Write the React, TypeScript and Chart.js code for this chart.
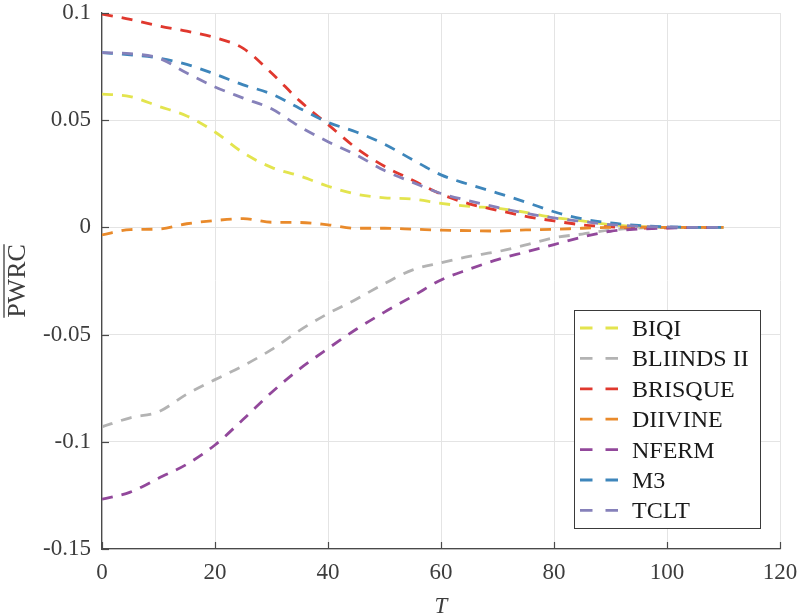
import React, { useEffect, useRef } from "react";
import { Chart, registerables } from "chart.js";

Chart.register(...registerables);

// Threshold values T (x axis)
const T_VALUES = [0, 5, 10, 15, 20, 25, 30, 35, 40, 45, 50, 55, 60, 65, 70, 75, 80, 85, 90, 95, 100, 105, 110];

// Mean PWRC for each quality metric
const BIQI = [0.0622, 0.061, 0.0565, 0.052, 0.0445, 0.0348, 0.028, 0.024, 0.0192, 0.0155, 0.0138, 0.0132, 0.0112, 0.0098, 0.0089, 0.007, 0.0046, 0.003, 0.0012, 0.0004, 0, 0, 0];
const BLIINDS_II = [-0.093, -0.0888, -0.086, -0.0778, -0.071, -0.0645, -0.057, -0.048, -0.0402, -0.0335, -0.0262, -0.0198, -0.0165, -0.0135, -0.0113, -0.0082, -0.0048, -0.0031, -0.0012, -0.0003, 0, 0, 0];
const BRISQUE = [0.0995, 0.097, 0.094, 0.0915, 0.0885, 0.0835, 0.072, 0.059, 0.048, 0.037, 0.0285, 0.022, 0.0155, 0.011, 0.008, 0.0052, 0.003, 0.0012, 0.0002, -0.0003, -0.0002, 0, 0];
const DIIVINE = [-0.0035, -0.001, -0.0008, 0.0017, 0.0032, 0.0041, 0.0024, 0.0023, 0.0012, -0.0004, -0.0004, -0.0008, -0.0013, -0.0015, -0.0017, -0.0012, -0.0009, -0.0004, 0, 0.0001, 0, 0, 0];
const NFERM = [-0.1268, -0.1235, -0.117, -0.1105, -0.1015, -0.0895, -0.077, -0.066, -0.0565, -0.0475, -0.0395, -0.0321, -0.0245, -0.0195, -0.015, -0.0115, -0.008, -0.0045, -0.0018, -0.0008, -0.0003, -0.0001, 0];
const M3 = [0.0815, 0.0805, 0.079, 0.076, 0.0715, 0.0665, 0.0622, 0.0555, 0.049, 0.0445, 0.0388, 0.0315, 0.0245, 0.02, 0.016, 0.0118, 0.0073, 0.004, 0.0021, 0.0009, 0.0003, 0, 0];
const TCLT = [0.0815, 0.081, 0.079, 0.072, 0.0655, 0.0603, 0.0553, 0.047, 0.04, 0.0338, 0.0265, 0.021, 0.0158, 0.0124, 0.0093, 0.0066, 0.0044, 0.0028, 0.0013, 0.0005, 0.0002, 0, 0];

const SERIES_NAMES = ["BIQI", "BLIINDS II", "BRISQUE", "DIIVINE", "NFERM", "M3", "TCLT"];
const SERIES_VALUES = [BIQI, BLIINDS_II, BRISQUE, DIIVINE, NFERM, M3, TCLT];
const SERIES_COLORS = ["#e3e44e", "#b3b3b3", "#e0382e", "#e98a2b", "#92489b", "#3e86bb", "#8681ba"];

const X_TICKS = [0, 20, 40, 60, 80, 100, 120];
const Y_TICK_VALUES = [-0.15, -0.1, -0.05, 0, 0.05, 0.1];
const Y_TICK_LABELS = ["-0.15", "-0.1", "-0.05", "0", "0.05", "0.1"];

const SERIF = "'Liberation Serif', 'Times New Roman', serif";
const AXIS_COLOR = "#4a4a4a";
const TICK_TEXT = "#3d3d3d";
const GRID_COLOR = "#e4e4e4";

// Inward tick marks, axis titles and the boxed legend
const decorations = {
  id: "decorations",
  afterDraw(chart: any) {
    const { ctx, chartArea, scales } = chart;
    const xs = scales.x;
    const ys = scales.y;
    ctx.save();

    // tick marks pointing into the plot
    ctx.strokeStyle = AXIS_COLOR;
    ctx.lineWidth = 1.2;
    ctx.setLineDash([]);
    X_TICKS.forEach((v) => {
      const px = Math.round(xs.getPixelForValue(v)) + 0.5;
      ctx.beginPath();
      ctx.moveTo(px, chartArea.bottom);
      ctx.lineTo(px, chartArea.bottom - 7);
      ctx.stroke();
    });
    Y_TICK_VALUES.forEach((v) => {
      const py = Math.round(ys.getPixelForValue(v)) + 0.5;
      ctx.beginPath();
      ctx.moveTo(chartArea.left, py);
      ctx.lineTo(chartArea.left + 7, py);
      ctx.stroke();
    });

    // x axis title
    ctx.fillStyle = TICK_TEXT;
    ctx.font = `italic 23px ${SERIF}`;
    ctx.textAlign = "center";
    ctx.textBaseline = "alphabetic";
    ctx.fillText("T", (chartArea.left + chartArea.right) / 2, 613);

    // y axis title with overline
    const cy = (chartArea.top + chartArea.bottom) / 2;
    ctx.save();
    ctx.translate(25, cy);
    ctx.rotate(-Math.PI / 2);
    ctx.font = `26px ${SERIF}`;
    ctx.textAlign = "center";
    ctx.fillText("PWRC", 0, 0);
    const w = ctx.measureText("PWRC").width;
    ctx.strokeStyle = TICK_TEXT;
    ctx.lineWidth = 1.3;
    ctx.beginPath();
    ctx.moveTo(-w / 2, -21);
    ctx.lineTo(w / 2, -21);
    ctx.stroke();
    ctx.restore();

    // legend
    const bx = 574.5, by = 310.5, bw = 186, bh = 218;
    ctx.fillStyle = "#ffffff";
    ctx.fillRect(bx, by, bw, bh);
    ctx.strokeStyle = "#3a3a3a";
    ctx.lineWidth = 1;
    ctx.strokeRect(bx, by, bw, bh);
    ctx.font = `24px ${SERIF}`;
    ctx.textAlign = "left";
    ctx.textBaseline = "alphabetic";
    SERIES_NAMES.forEach((name, i) => {
      const ly = 328 + i * 30.4;
      ctx.strokeStyle = SERIES_COLORS[i];
      ctx.lineWidth = 2.8;
      ctx.setLineDash([12.5, 13]);
      ctx.beginPath();
      ctx.moveTo(580, ly);
      ctx.lineTo(618, ly);
      ctx.stroke();
      ctx.setLineDash([]);
      ctx.fillStyle = "#1a1a1a";
      ctx.fillText(name, 632, ly + 8);
    });

    ctx.restore();
  },
};

export default function App() {
  const canvasRef = useRef<HTMLCanvasElement | null>(null);

  useEffect(() => {
    const canvas = canvasRef.current;
    if (!canvas) return;

    const datasets = SERIES_NAMES.map((name, i) => ({
      label: name,
      data: T_VALUES.map((t, j) => ({ x: t, y: SERIES_VALUES[i][j] })),
      borderColor: SERIES_COLORS[i],
      backgroundColor: SERIES_COLORS[i],
      borderWidth: 2.8,
      borderDash: [11, 9],
      borderCapStyle: "butt" as const,
      pointRadius: 0,
      cubicInterpolationMode: "monotone" as const,
      fill: false,
      order: SERIES_NAMES.length - i,
    }));

    const chart = new Chart(canvas, {
      type: "line",
      data: { datasets },
      options: {
        animation: false,
        responsive: false,
        maintainAspectRatio: false,
        layout: { padding: { top: 13, right: 25, left: 0, bottom: 0 } },
        plugins: {
          legend: { display: false },
          tooltip: { enabled: false },
        },
        scales: {
          x: {
            type: "linear",
            min: 0,
            max: 120,
            afterBuildTicks: (scale: any) => {
              scale.ticks = X_TICKS.map((v) => ({ value: v }));
            },
            afterFit: (scale: any) => {
              scale.height = 66;
              scale.paddingLeft = 0;
              scale.paddingRight = 0;
            },
            ticks: {
              color: TICK_TEXT,
              font: { family: SERIF, size: 23 },
              padding: 10,
              maxRotation: 0,
              callback: (v: any) => String(v),
            },
            grid: { color: GRID_COLOR, lineWidth: 1, drawTicks: false },
            border: { color: AXIS_COLOR, width: 1.3 },
          },
          y: {
            type: "linear",
            min: -0.15,
            max: 0.1,
            afterBuildTicks: (scale: any) => {
              scale.ticks = Y_TICK_VALUES.map((v) => ({ value: v }));
            },
            afterFit: (scale: any) => {
              scale.width = 102;
              scale.paddingTop = 0;
              scale.paddingBottom = 0;
            },
            ticks: {
              color: TICK_TEXT,
              font: { family: SERIF, size: 23 },
              padding: 11,
              callback: (v: any) => {
                const idx = Y_TICK_VALUES.findIndex((t) => Math.abs(t - Number(v)) < 1e-9);
                return idx >= 0 ? Y_TICK_LABELS[idx] : "";
              },
            },
            grid: { color: GRID_COLOR, lineWidth: 1, drawTicks: false },
            border: { color: AXIS_COLOR, width: 1.3 },
          },
        },
      },
      plugins: [decorations],
    });

    return () => chart.destroy();
  }, []);

  return (
    <div style={{ position: "fixed", left: 0, top: 0, width: 805, height: 615, background: "#ffffff" }}>
      <canvas ref={canvasRef} width={805} height={615} style={{ display: "block" }} />
    </div>
  );
}
